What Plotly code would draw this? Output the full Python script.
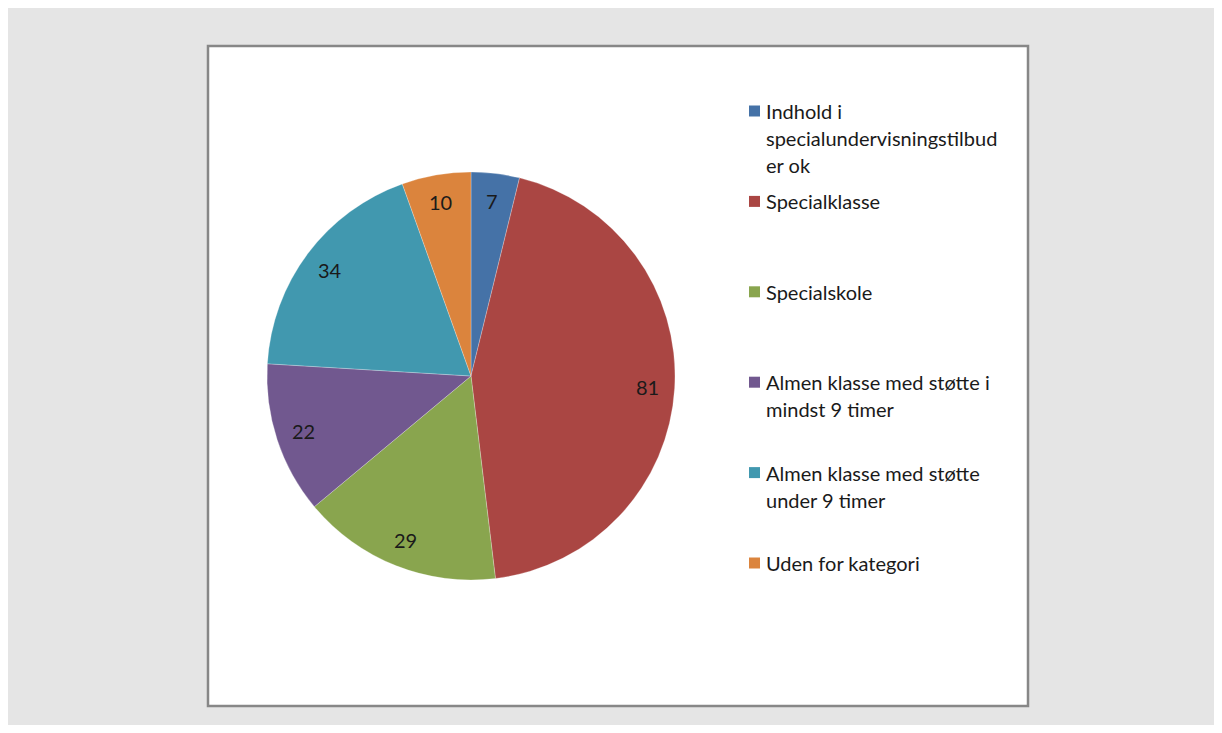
import math
import plotly.graph_objects as go

# ─── Data ─────────────────────────────────────────────────────────────────────

CATEGORIES = [
    "Indhold i specialundervisningstilbud er ok",
    "Specialklasse",
    "Specialskole",
    "Almen klasse med støtte i mindst 9 timer",
    "Almen klasse med støtte under 9 timer",
    "Uden for kategori",
]
# legend text as Excel wraps it
LEGEND_LINES = [
    ["Indhold i", "specialundervisningstilbud", "er ok"],
    ["Specialklasse"],
    ["Specialskole"],
    ["Almen klasse med støtte i", "mindst 9 timer"],
    ["Almen klasse med støtte", "under 9 timer"],
    ["Uden for kategori"],
]
VALUES = [7, 81, 29, 22, 34, 10]
COLORS = ["#4572A7", "#AA4643", "#89A54E", "#71588F", "#4198AF", "#DB843D"]

# ─── Layout constants (pixels of the page) ────────────────────────────────────

# the plot div sits inside the 8px body margin of the page
OFF = 8
W, H = 1222 - 2 * OFF, 733 - 2 * OFF
FONT = "Lato, 'Open Sans', sans-serif"
TEXT = "#1A1A1A"


def px_x(x):
    return (x - OFF) / W


def px_y(y):
    return 1 - (y - OFF) / H


PIE_L, PIE_R, PIE_T, PIE_B = 267, 675, 172, 580
LABEL_R = 0.865  # Excel puts the value labels near the rim

fig = go.Figure(go.Pie(
    labels=CATEGORIES,
    values=VALUES,
    sort=False,
    direction="clockwise",
    rotation=0,
    marker=dict(colors=COLORS, line=dict(color="rgba(255,255,255,0.5)", width=0.5)),
    textinfo="none",
    domain=dict(x=[px_x(PIE_L), px_x(PIE_R)], y=[px_y(PIE_B), px_y(PIE_T)]),
    showlegend=False,
    hovertemplate="%{label}: %{value}<extra></extra>",
))

shapes = [
    # chart frame
    dict(type="rect", xref="paper", yref="paper", layer="below",
         x0=px_x(208), x1=px_x(1028), y0=px_y(706), y1=px_y(46),
         fillcolor="white", line=dict(color="#878787", width=2.5)),
]
annotations = []

# value labels, placed along each slice's mid angle
cx, cy = (PIE_L + PIE_R) / 2, (PIE_T + PIE_B) / 2
r = min(PIE_R - PIE_L, PIE_B - PIE_T) / 2
total = sum(VALUES)
cum = 0
for v in VALUES:
    mid = (cum + v / 2) / total * 2 * math.pi
    cum += v
    lx = cx + math.sin(mid) * r * LABEL_R
    ly = cy - math.cos(mid) * r * LABEL_R
    annotations.append(dict(
        text=str(v), xref="paper", yref="paper", x=px_x(lx), y=px_y(ly),
        xanchor="center", yanchor="middle", showarrow=False,
        font=dict(family=FONT, size=20, color=TEXT),
    ))

# manual legend, one slot per category
SLOT_TOP, SLOT_STEP, LINE_STEP = 111, 90.4, 27
for i, (lines, color) in enumerate(zip(LEGEND_LINES, COLORS)):
    y0 = SLOT_TOP + i * SLOT_STEP
    shapes.append(dict(type="rect", xref="paper", yref="paper",
                       x0=px_x(749), x1=px_x(760), y0=px_y(y0 + 5.5), y1=px_y(y0 - 5.5),
                       fillcolor=color, line=dict(width=0)))
    for j, line in enumerate(lines):
        annotations.append(dict(
            text=line, xref="paper", yref="paper",
            x=px_x(764), y=px_y(y0 + j * LINE_STEP),
            xanchor="left", yanchor="middle", showarrow=False,
            font=dict(family=FONT, size=20, color=TEXT),
        ))

fig.update_layout(
    paper_bgcolor="#E5E5E5",
    plot_bgcolor="#E5E5E5",
    margin=dict(l=0, r=0, t=0, b=0),
    shapes=shapes,
    annotations=annotations,
    font=dict(family=FONT, color=TEXT),
)

fig.write_html("out.html")
